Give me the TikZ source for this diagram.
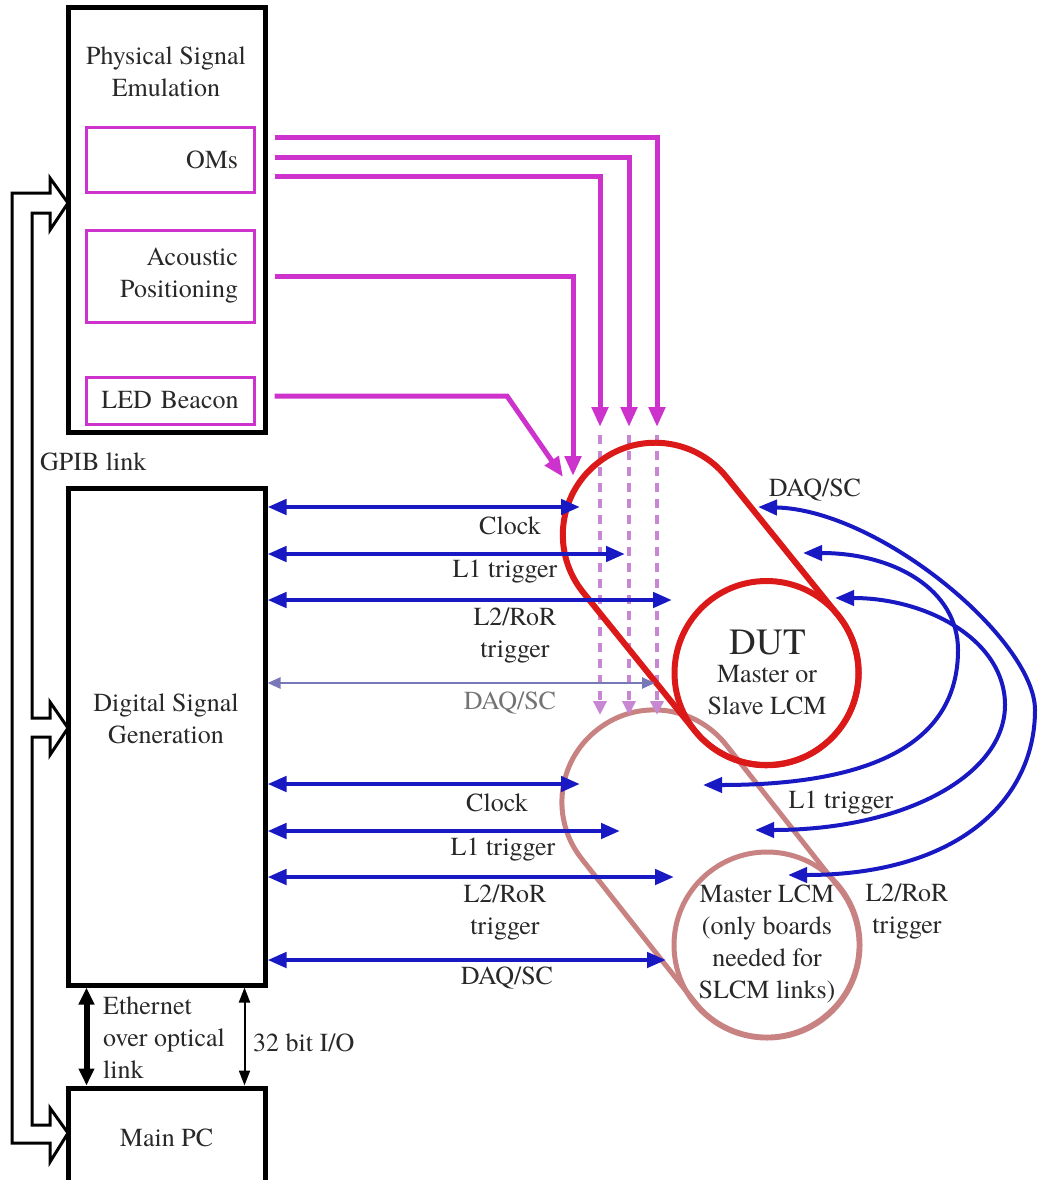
\documentclass[tikz,border=0pt]{standalone}
\usepackage{fontspec}
\setmainfont{texgyretermes}[Extension=.otf, UprightFont=*-regular, BoldFont=*-bold]
\usetikzlibrary{arrows.meta, positioning, calc}

\definecolor{sigmag}{RGB}{205,50,205}
\definecolor{dashpink}{RGB}{200,135,210}
\definecolor{busblue}{RGB}{25,25,195}
\definecolor{daqgrey}{RGB}{120,120,185}
\definecolor{dutred}{RGB}{220,25,25}
\definecolor{lcmpink}{RGB}{200,130,130}
\definecolor{txtgrey}{RGB}{40,40,40}

\begin{document}
\begin{tikzpicture}[
			x=1pt, y=-1pt,
			font=\fontsize{26}{32}\selectfont,
			every node/.style={text=txtgrey},
			block/.style={rectangle, draw=black, line width=5pt, minimum width=197pt, inner sep=0pt},
			subblock/.style={rectangle, draw=sigmag, line width=3pt, minimum width=168pt, text width=136pt, inner sep=0pt, align=right},
			lbl/.style={align=center, inner sep=0pt},
			capsule/.style={rectangle, rounded corners=91.5pt, minimum height=184pt, inner sep=0pt},
			lcm/.style={circle, inner sep=0pt},
			sigarrow/.style={->, >={Triangle[length=20pt,width=16pt]}, draw=sigmag, line width=5pt},
			dasharrow/.style={->, >={Triangle[length=14pt,width=13pt]}, draw=dashpink, line width=3.5pt, dash pattern=on 9pt off 7pt},
			busarrow/.style={<->, >={Triangle[length=19pt,width=15pt]}, draw=busblue, line width=4.5pt},
			loopline/.style={busarrow, line width=4pt},
			gpib/.style={draw=black, line width=3pt, line join=miter},
			ether/.style={<->, >={Triangle[length=17pt,width=15pt]}, draw=black, line width=6pt},
			io/.style={<->, >={Triangle[length=15pt,width=11pt]}, draw=black, line width=2pt}
		]

		\useasboundingbox (0,0) rectangle (1038,1180);

		% --- LEFT COLUMN ---
		\node (pse) [block, minimum height=424pt] at (166.5,220) {};
		\node (psetitle) [lbl] at (166,72) {Physical Signal\\Emulation};
		\node (oms) [subblock, minimum height=64pt] at (170,160) {OMs};
		\node (acoustic) [subblock, minimum height=92pt] at (170,276) {Acoustic\\Positioning};
		\node (led) [subblock, minimum height=47pt, text width=160pt, align=center] at (170,400.5) {LED Beacon};

		\node (dsg) [block, minimum height=497pt, below=51pt of pse] {};
		\node (dsgtitle) [lbl] at (166,719) {Digital Signal\\Generation};
		\node (mainpc) [block, minimum height=100pt, below=98pt of dsg] {Main PC};

		\node (gpiblbl) [lbl, anchor=west] at (40,462) {GPIB link};
		\node (ethlbl) [lbl, align=left, anchor=west] at (103,1038) {Ethernet\\over optical\\link};
		\node (iolbl) [lbl, anchor=west] at (253,1043) {32 bit I/O};

		% GPIB bus
		\draw [gpib] (12,193) -- (50,193) -- (50,178) -- (68,203) -- (50,230) -- (50,213) -- (32,213)
			-- (32,718) -- (50,718) -- (50,702) -- (68,728) -- (50,755) -- (50,737) -- (32,737)
			-- (32,1125) -- (50,1125) -- (50,1108) -- (68,1133) -- (50,1162) -- (50,1143) -- (12,1143) -- cycle;

		% PC links
		\draw [ether] ([xshift=21pt]dsg.south west) -- ([xshift=21pt]mainpc.north west);
		\draw [io] ([xshift=179pt]dsg.south west) -- ([xshift=179pt]mainpc.north west);

		% --- LCM BOARDS ---
		\node (masterzone) [capsule, draw=lcmpink, line width=5pt, minimum width=366pt, rotate=-51.7] at (710.5,873.5) {};
		\node (master) [lcm, draw=lcmpink, line width=5pt, minimum size=186pt] at (767,945) {};

		% end points inside the boards
		\coordinate (omtipA) at (657,427);
		\coordinate (omtipB) at (629,427);
		\coordinate (omtipC) at (600,427);
		\coordinate (omendA) at (657,715);
		\coordinate (omendB) at (629,715);
		\coordinate (omendC) at (600,715);
		\coordinate (actip) at (573,476);
		\coordinate (ledbend) at (507,396);
		\coordinate (ledtip) at (563,477);

		\coordinate (clkA) at (580,507);
		\coordinate (lonA) at (625,554);
		\coordinate (ltwoA) at (672,600);
		\coordinate (daqA) at (655,683);
		\coordinate (clkB) at (580,784);
		\coordinate (lonB) at (620,831);
		\coordinate (ltwoB) at (674,877);
		\coordinate (daqB) at (666,960);

		\coordinate (loopAs) at (758,507);
		\coordinate (loopAe) at (788,875);
		\coordinate (loopBs) at (803,553);
		\coordinate (loopBe) at (703,785);
		\coordinate (loopCs) at (835,598);
		\coordinate (loopCe) at (755,830);

		% OM signals through the DUT
		\draw [dasharrow] ([yshift=-8pt]omtipA) -- (omendA);
		\draw [dasharrow] ([yshift=-8pt]omtipB) -- (omendB);
		\draw [dasharrow] ([yshift=-8pt]omtipC) -- (omendC);

		\node (dutzone) [capsule, draw=dutred, line width=6pt, minimum width=361.5pt, rotate=-51.1] at (710.75,604) {};
		\node (dut) [lcm, draw=dutred, line width=6pt, minimum size=184pt] at (766.5,673) {};

		% --- PHYSICAL SIGNALS ---
		\draw [sigarrow] ($(oms.east)+(19,-22)$) -| (omtipA);
		\draw [sigarrow] ($(oms.east)+(19,-3)$) -| (omtipB);
		\draw [sigarrow] ($(oms.east)+(19,16)$) -| (omtipC);
		\draw [sigarrow] ($(acoustic.east)+(19,0)$) -| (actip);
		\draw [sigarrow] ($(led.east)+(19,-4.5)$) -- (ledbend) -- (ledtip);

		% --- DIGITAL SIGNALS ---
		\draw [busarrow] (dsg.east |- clkA) -- (clkA);
		\draw [busarrow] (dsg.east |- lonA) -- (lonA);
		\draw [busarrow] (dsg.east |- ltwoA) -- (ltwoA);
		\draw [busarrow, draw=daqgrey, line width=2.5pt, >={Triangle[length=13pt,width=11pt]}] (dsg.east |- daqA) -- (daqA);
		\draw [busarrow] (dsg.east |- clkB) -- (clkB);
		\draw [busarrow] (dsg.east |- lonB) -- (lonB);
		\draw [busarrow] (dsg.east |- ltwoB) -- (ltwoB);
		\draw [busarrow] (dsg.east |- daqB) -- (daqB);

		\node (clkAlbl) [lbl] at (510,526) {Clock};
		\node (lonAlbl) [lbl] at (505,572) {L1 trigger};
		\node (ltwoAlbl) [lbl] at (515,636) {L2/RoR\\trigger};
		\node (daqAlbl) [lbl, text=black!55] at (510,703) {DAQ/SC};
		\node (clkBlbl) [lbl] at (497,803) {Clock};
		\node (lonBlbl) [lbl] at (503,850) {L1 trigger};
		\node (ltwoBlbl) [lbl] at (505,913) {L2/RoR\\trigger};
		\node (daqBlbl) [lbl] at (507,978) {DAQ/SC};

		% --- LOOPBACK LINKS ---
		\draw [loopline] (loopAs) .. controls +(122,3) and +(0,-70) .. (1035,710) .. controls +(0,90) and +(170,0) .. (loopAe);
		\draw [loopline] (loopBs) .. controls +(92,0) and +(0,-60) .. (958,650) .. controls +(0,90) and +(175,0) .. (loopBe);
		\draw [loopline] (loopCs) .. controls +(92,0) and +(0,-65) .. (1005,705) .. controls +(0,70) and +(150,0) .. (loopCe);

		\node (rdaqlbl) [lbl] at (815,490) {DAQ/SC};
		\node (rlonlbl) [lbl] at (841,803) {L1 trigger};
		\node (rltwolbl) [lbl] at (907,912) {L2/RoR\\trigger};

		% --- BOARD TEXTS ---
		\node (duttitle) [lbl, font=\fontsize{37}{40}\selectfont] at (768,643) {DUT};
		\node (dutlbl) [lbl] at (767,690) {Master or\\Slave LCM};
		\node (masterlbl) [lbl] at (767,944) {Master LCM\\(only boards\\needed for\\SLCM links)};
	\end{tikzpicture}
\end{document}
